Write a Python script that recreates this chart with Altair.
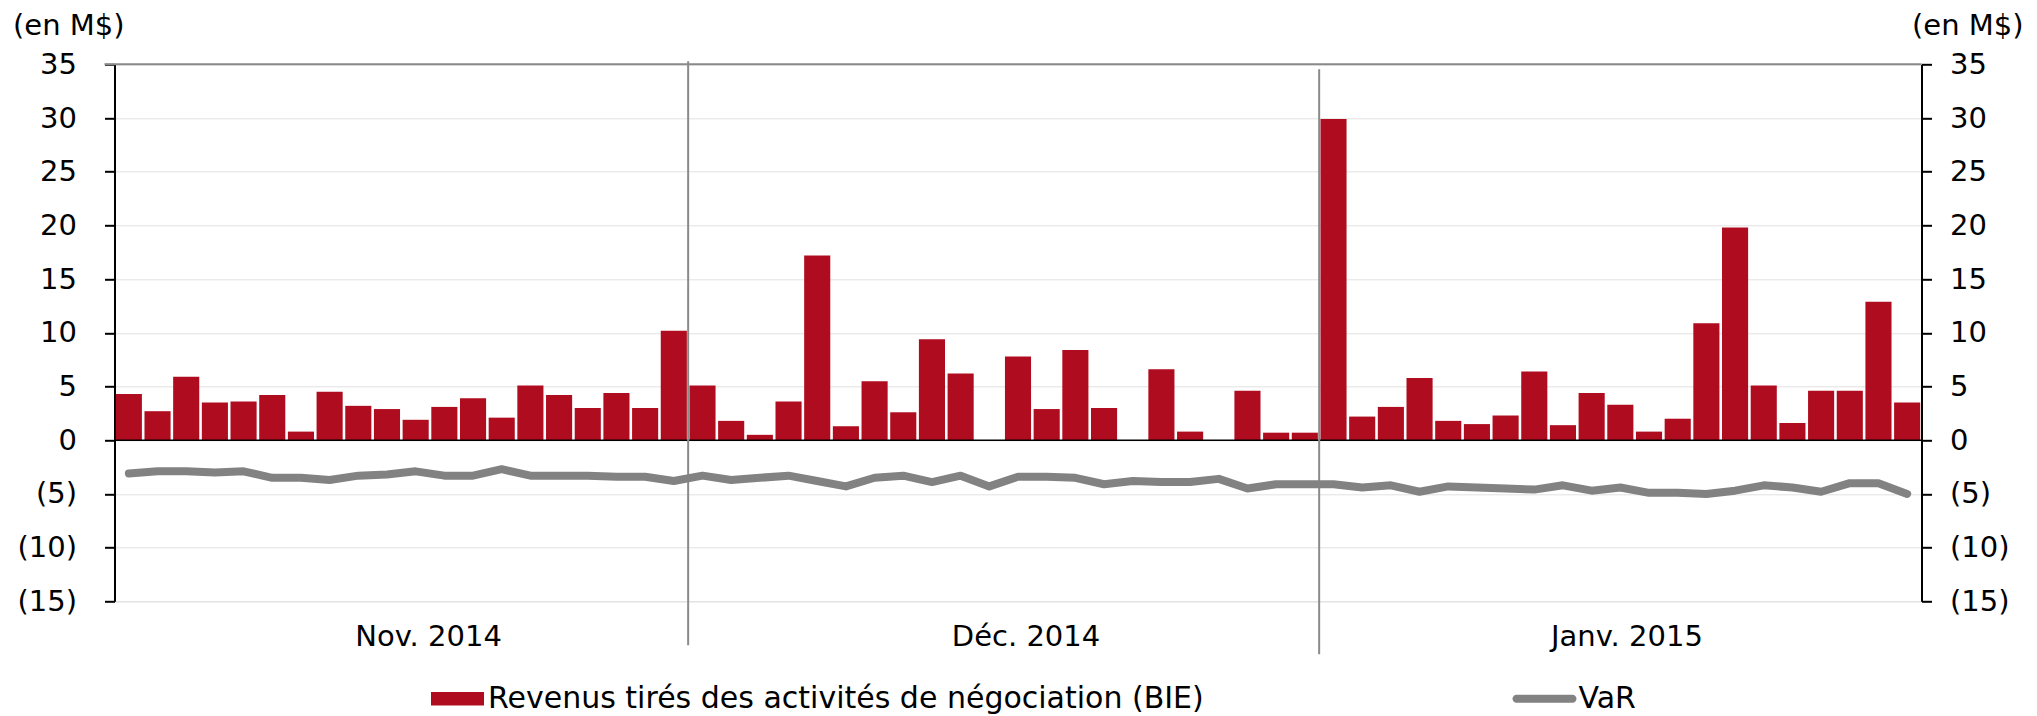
import altair as alt
import pandas as pd

# ---------------- data ----------------
months = ["Nov. 2014", "Déc. 2014", "Janv. 2015"]
month_label_pos = [10.95, 31.78, 52.73]   # label anchor (in bar slots)

revenus_nov = [4.3, 2.7, 5.9, 3.5, 3.6, 4.2, 0.8, 4.5, 3.2, 2.9, 1.9, 3.1, 3.9, 2.1,
               5.1, 4.2, 3.0, 4.4, 3.0, 10.2]
revenus_dec = [5.1, 1.8, 0.5, 3.6, 17.2, 1.3, 5.5, 2.6, 9.4, 6.2, 0.0, 7.8, 2.9, 8.4,
               3.0, 0.0, 6.6, 0.8, 0.0, 4.6, 0.7, 0.7]
revenus_jan = [29.9, 2.2, 3.1, 5.8, 1.8, 1.5, 2.3, 6.4, 1.4, 4.4, 3.3, 0.8, 2.0, 10.9,
               19.8, 5.1, 1.6, 4.6, 4.6, 12.9, 3.5]

var_nov = [-3.1, -2.9, -2.9, -3.0, -2.9, -3.5, -3.5, -3.7, -3.3, -3.2, -2.9, -3.3, -3.3,
           -2.7, -3.3, -3.3, -3.3, -3.4, -3.4, -3.8]
var_dec = [-3.3, -3.7, -3.5, -3.3, -3.8, -4.3, -3.5, -3.3, -3.9, -3.3, -4.3, -3.4, -3.4,
           -3.5, -4.1, -3.8, -3.9, -3.9, -3.6, -4.5, -4.1, -4.1]
var_jan = [-4.1, -4.4, -4.2, -4.8, -4.3, -4.4, -4.5, -4.6, -4.2, -4.7, -4.4, -4.9, -4.9,
           -5.0, -4.7, -4.2, -4.4, -4.8, -4.0, -4.0, -5.0]

y_ticks = [-15, -10, -5, 0, 5, 10, 15, 20, 25, 30, 35]
serie_bar = "Revenus tirés des activités de négociation (BIE)"
serie_line = "VaR"

# ---------------- tables ----------------
revenus = revenus_nov + revenus_dec + revenus_jan
var = var_nov + var_dec + var_jan
n = len(revenus)
df = pd.DataFrame({"i": range(n), "rev": revenus, "var": var})
df["x0"] = df["i"] + 0.045
df["x1"] = df["i"] + 0.955
df["xm"] = df["i"] + 0.5
df["s_bar"] = serie_bar
df["s_line"] = serie_line

bounds = pd.DataFrame({"b": [len(revenus_nov), len(revenus_nov) + len(revenus_dec)]})
mlab = pd.DataFrame({"m": months, "p": month_label_pos})

FONT = "DejaVu Sans"
FS = 29
LFS = 30
W, H = 1807, 537
RED = "#AF0C1F"
GREY = "#828282"

xscale = alt.Scale(domain=[0, n], nice=False, zero=False)
yscale = alt.Scale(domain=[-15, 35], nice=False)

neg_fmt_left = "datum.value < 0 ? '(' + abs(datum.value) + ')' : datum.value + '\u2008'"
neg_fmt_right = "datum.value < 0 ? '(' + abs(datum.value) + ')' : '' + datum.value"

rect_sym = "M-1,-0.257L1,-0.257L1,0.257L-1,0.257Z"
pill_sym = ("M-0.875,-0.125L0.875,-0.125A0.125,0.125,0,0,1,0.875,0.125"
            "L-0.875,0.125A0.125,0.125,0,0,1,-0.875,-0.125Z")

base = alt.Chart(df)

bars = base.mark_bar(color=RED).encode(
    x=alt.X("x0:Q", scale=xscale,
            axis=alt.Axis(title=None, labels=False, ticks=False, grid=False,
                          domainColor="#8a8a8a", domainWidth=2.5)),
    x2="x1:Q",
    y=alt.Y("rev:Q", scale=yscale,
            axis=alt.Axis(values=y_ticks, labelExpr=neg_fmt_left, grid=True,
                          gridColor="#e2e2e2", gridWidth=1,
                          domainColor="black", domainWidth=2,
                          tickColor="black", tickWidth=2, tickSize=10,
                          labelPadding=28, labelFont=FONT, labelFontSize=FS,
                          labelColor="black",
                          title="(en M$)", titleAngle=0, titleX=-102, titleY=-39,
                          titleAlign="left", titleBaseline="middle",
                          titleFont=FONT, titleFontSize=FS, titleFontWeight="normal",
                          titleColor="black")),
    y2=alt.datum(0),
    color=alt.Color("s_bar:N",
                    scale=alt.Scale(domain=[serie_bar], range=[RED]),
                    legend=alt.Legend(title=None, orient="none", legendX=316.5,
                                      legendY=608, padding=0,
                                      symbolType=rect_sym,
                                      symbolSize=2809, symbolStrokeWidth=0,
                                      labelFont=FONT, labelFontSize=LFS,
                                      labelColor="black", labelOffset=4,
                                      labelLimit=1000)),
)

zero = alt.Chart(pd.DataFrame({"z": [0]})).mark_rule(color="black", strokeWidth=1.5).encode(
    y=alt.Y("z:Q", scale=yscale, axis=None)
)

line = base.mark_line(strokeWidth=8, strokeCap="round", strokeJoin="round").encode(
    x=alt.X("xm:Q", scale=xscale, axis=None),
    y=alt.Y("var:Q", scale=yscale,
            axis=alt.Axis(orient="right", values=y_ticks, labelExpr=neg_fmt_right,
                          grid=False, domainColor="black", domainWidth=2,
                          tickColor="black", tickWidth=2, tickSize=10,
                          labelPadding=18, labelAlign="left",
                          labelFont=FONT, labelFontSize=FS, labelColor="black",
                          title="(en M$)", titleAngle=0, titleX=-10, titleY=-39,
                          titleAlign="left", titleBaseline="middle",
                          titleFont=FONT, titleFontSize=FS, titleFontWeight="normal",
                          titleColor="black")),
    stroke=alt.Stroke("s_line:N",
                      scale=alt.Scale(domain=[serie_line], range=[GREY]),
                      legend=alt.Legend(title=None, orient="none", legendX=1398,
                                        legendY=602.5, padding=0,
                                        symbolType=pill_sym, symbolSize=4096,
                                        symbolFillColor=GREY, symbolStrokeWidth=0,
                                        labelFont=FONT, labelFontSize=LFS,
                                        labelColor="black", labelOffset=2)),
)

top = alt.Chart(pd.DataFrame({"t": [0]})).mark_rule(color="#8a8a8a", strokeWidth=2).encode(
    y=alt.value(0), x=alt.value(-10), x2=alt.value(W)
)

div1 = alt.Chart(bounds.iloc[[0]]).mark_rule(color="#8a8a8a", strokeWidth=2).encode(
    x=alt.X("b:Q", scale=xscale, axis=None), y=alt.value(-3), y2=alt.value(581)
)
div2 = alt.Chart(bounds.iloc[[1]]).mark_rule(color="#8a8a8a", strokeWidth=2).encode(
    x=alt.X("b:Q", scale=xscale, axis=None), y=alt.value(5), y2=alt.value(590)
)

labels = alt.Chart(mlab).mark_text(font=FONT, fontSize=FS, color="black",
                                   align="center", baseline="middle").encode(
    x=alt.X("p:Q", scale=xscale, axis=None), y=alt.value(H + 36), text="m:N"
)

chart = alt.layer(bars, zero, div1, div2, top, labels, line).resolve_axis(
    y="independent"
).resolve_scale(y="shared").properties(
    width=W, height=H,
    autosize=alt.AutoSizeParams(type="none"),
    padding={"left": 106.5, "top": 56.3, "right": 107, "bottom": 114.7},
).configure_view(stroke=None).configure(font=FONT)

chart.save("out.html", embed_options={"renderer": "svg", "actions": False})
